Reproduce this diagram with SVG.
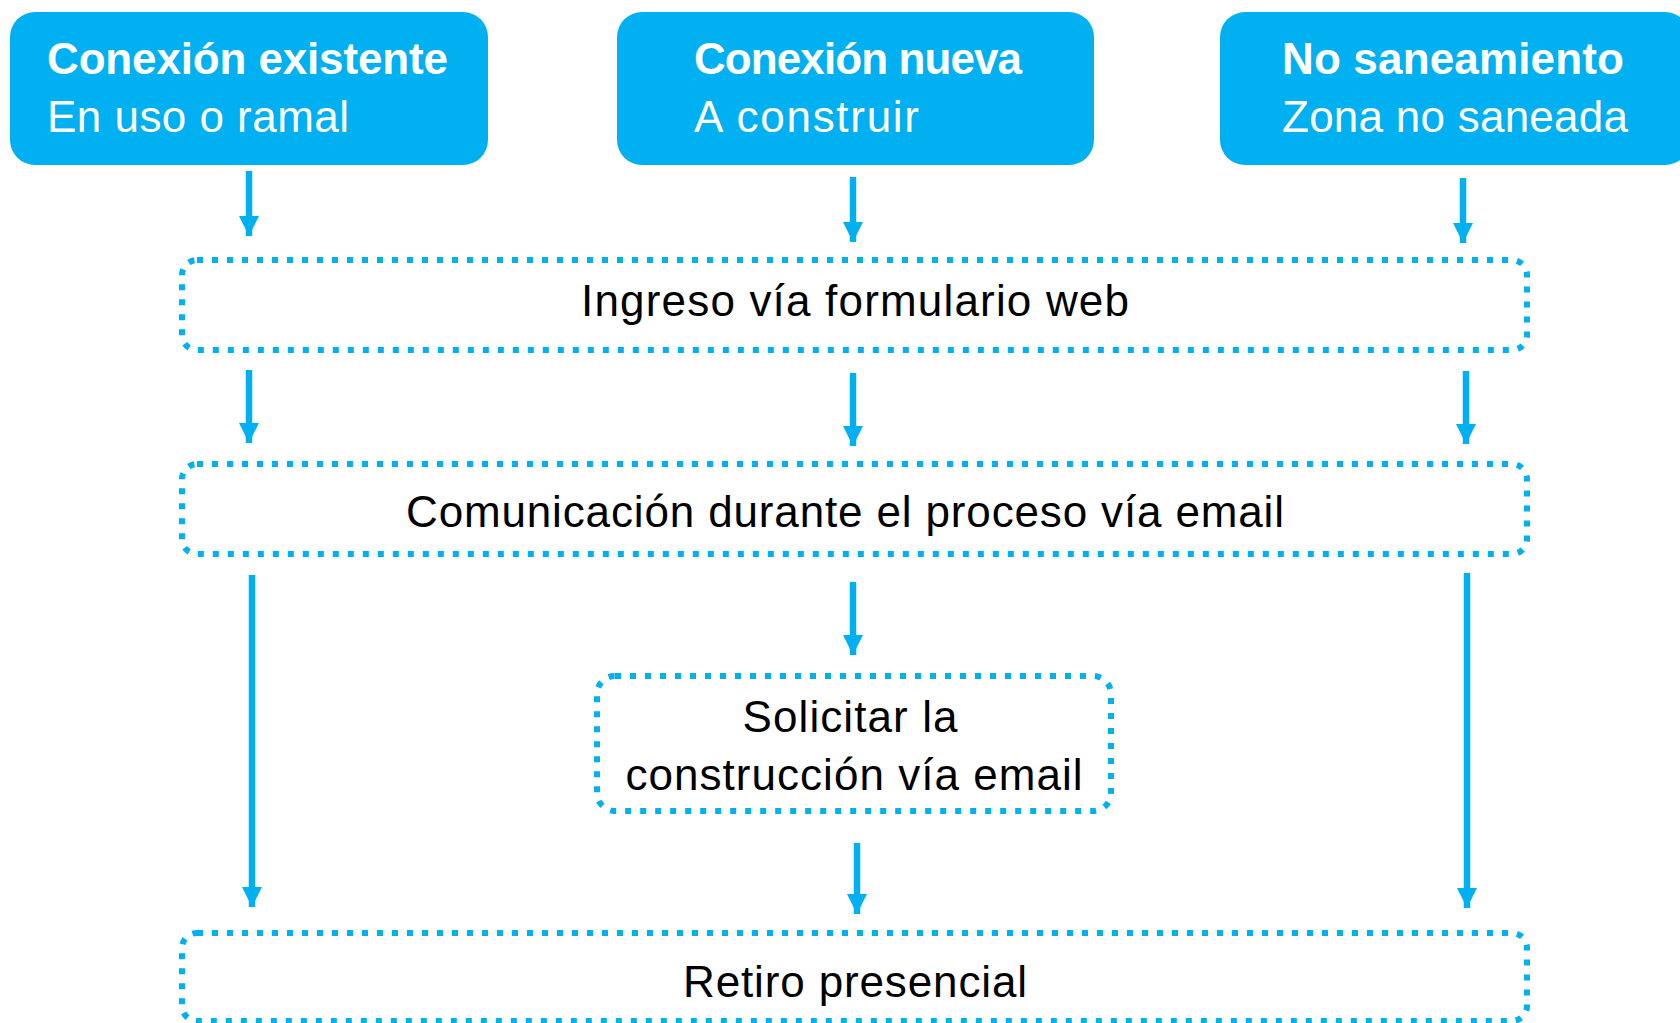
<svg xmlns="http://www.w3.org/2000/svg" width="1680" height="1023" viewBox="0 0 1680 1023">
<defs>
<style>
.hdr{fill:#00B0F0}
.hdrT{fill:#ffffff;font-family:"Liberation Sans",Arial,sans-serif;font-size:44px;font-weight:bold}
.hdrS{fill:#ffffff;font-family:"Liberation Sans",Arial,sans-serif;font-size:44px}
.step{fill:none;stroke:#00B0F0;stroke-width:6;stroke-dasharray:6 9}
.lbl{fill:#000000;font-family:"Liberation Sans",Arial,sans-serif;font-size:44px;text-anchor:middle}
.conn line{stroke:#00B0F0;stroke-width:6.5}
</style>
<marker id="arrow" markerWidth="20" markerHeight="20" viewBox="0 0 20 20" refX="20" refY="10" orient="auto" markerUnits="userSpaceOnUse">
<path d="M0,0 L20,10 L0,20 Z" fill="#00B0F0"/>
</marker>
</defs>
<rect width="1680" height="1023" fill="#ffffff"/>
<g id="n-existente">
<rect class="hdr" x="10" y="12" width="478" height="153" rx="25"/>
<text class="hdrT" x="47" y="74" textLength="401" lengthAdjust="spacing">Conexión existente</text>
<text class="hdrS" x="47" y="132" textLength="302" lengthAdjust="spacing">En uso o ramal</text>
</g>
<g id="n-nueva">
<rect class="hdr" x="617" y="12" width="477" height="153" rx="25"/>
<text class="hdrT" x="694" y="74" textLength="328" lengthAdjust="spacing">Conexión nueva</text>
<text class="hdrS" x="694" y="132" textLength="225" lengthAdjust="spacing">A construir</text>
</g>
<g id="n-nosaneamiento">
<rect class="hdr" x="1220" y="12" width="470" height="153" rx="25"/>
<text class="hdrT" x="1282" y="74" textLength="342" lengthAdjust="spacing">No saneamiento</text>
<text class="hdrS" x="1282" y="132" textLength="346" lengthAdjust="spacing">Zona no saneada</text>
</g>
<g id="n-ingreso">
<rect class="step" x="182" y="260" width="1345" height="90" rx="15"/>
<text class="lbl" x="855" y="316" textLength="548" lengthAdjust="spacing">Ingreso vía formulario web</text>
</g>
<g id="n-comunicacion">
<rect class="step" x="182" y="464" width="1345" height="90" rx="15"/>
<text class="lbl" x="845" y="527" textLength="878" lengthAdjust="spacing">Comunicación durante el proceso vía email</text>
</g>
<g id="n-solicitar">
<rect class="step" x="597" y="676" width="514" height="135" rx="18"/>
<text class="lbl" x="850" y="732" textLength="215" lengthAdjust="spacing">Solicitar la</text>
<text class="lbl" x="854" y="790" textLength="457" lengthAdjust="spacing">construcción vía email</text>
</g>
<g id="n-retiro">
<rect class="step" x="182" y="933" width="1345" height="88" rx="15"/>
<text class="lbl" x="855" y="997" textLength="344" lengthAdjust="spacing">Retiro presencial</text>
</g>
<g id="connectors" class="conn">
<line x1="249" y1="171" x2="249" y2="236" marker-end="url(#arrow)"/>
<line x1="853" y1="177" x2="853" y2="242" marker-end="url(#arrow)"/>
<line x1="1463" y1="178" x2="1463" y2="243" marker-end="url(#arrow)"/>
<line x1="249" y1="370" x2="249" y2="443" marker-end="url(#arrow)"/>
<line x1="853" y1="373" x2="853" y2="446" marker-end="url(#arrow)"/>
<line x1="1466" y1="371" x2="1466" y2="444" marker-end="url(#arrow)"/>
<line x1="252" y1="575" x2="252" y2="907" marker-end="url(#arrow)"/>
<line x1="853" y1="582" x2="853" y2="655" marker-end="url(#arrow)"/>
<line x1="1467" y1="573" x2="1467" y2="908" marker-end="url(#arrow)"/>
<line x1="857" y1="843" x2="857" y2="914" marker-end="url(#arrow)"/>
</g>
</svg>
